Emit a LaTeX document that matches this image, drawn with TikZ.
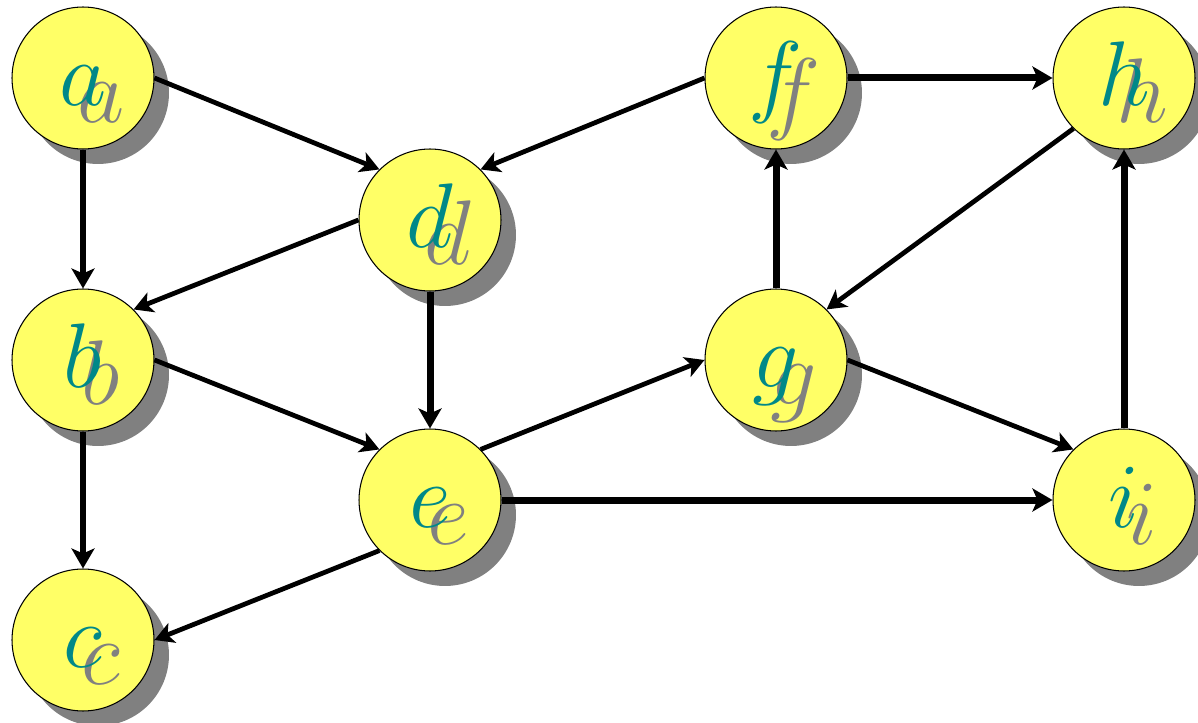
\documentclass[tikz,border=0pt]{standalone}
\usetikzlibrary{arrows.meta,shadows}
\definecolor{nodeyellow}{RGB}{255,255,102}
\definecolor{labelteal}{RGB}{0,136,136}
\definecolor{shadegray}{RGB}{128,128,128}
\newcommand{\vlabel}[1]{\scalebox{2.1}{$#1$}}

\begin{document}
\begin{tikzpicture}[
  x=0.02cm, y=-0.02cm,
  vtx/.style={
    circle, draw=black, line width=0.6pt, fill=nodeyellow,
    minimum size=2.84cm, inner sep=0pt,
    text height=1.25cm, text depth=0.15cm,
    font=\Huge, text=labelteal,
    drop shadow={shadow xshift=0.3cm, shadow yshift=-0.3cm, fill=shadegray, opacity=1},
    path picture={\node[text=shadegray, inner sep=0pt, text height=1.25cm, text depth=0.15cm]
      at ([shift={(0.36cm,-0.34cm)}]path picture bounding box.center) {\vlabel{#1}};}
  },
  wide/.style={-{Stealth[length=0.4cm, width=0.46cm, inset=0.1cm]}, line width=1.4mm},
  slim/.style={-{Stealth[length=0.38cm, width=0.42cm, inset=0.1cm]}, line width=0.95mm}
]
\useasboundingbox (0,0) rectangle (1198,723);

% vertices
\node[vtx=a] (a) at (83,78)   {\vlabel{a}};
\node[vtx=b] (b) at (83,360)  {\vlabel{b}};
\node[vtx=c] (c) at (83,640)  {\vlabel{c}};
\node[vtx=d] (d) at (430,220) {\vlabel{d}};
\node[vtx=e] (e) at (430,500) {\vlabel{e}};
\node[vtx=f] (f) at (776,78)  {\vlabel{f}};
\node[vtx=g] (g) at (776,360) {\vlabel{g}};
\node[vtx=h] (h) at (1124,78) {\vlabel{h}};
\node[vtx=i] (i) at (1124,500) {\vlabel{i}};

% heavy edges
\draw[wide] (a) -- (b);
\draw[wide] (b) -- (c);
\draw[wide] (d) -- (e);
\draw[wide] (g) -- (f);
\draw[wide] (i) -- (h);
\draw[wide] (f) -- (h);
\draw[wide] (e) -- (i);

% light edges
\draw[slim] (a.east) -- (d.north west);
\draw[slim] (f.west) -- (d.north east);
\draw[slim] (d.west) -- (b.north east);
\draw[slim] (b.east) -- (e.north west);
\draw[slim] (e.south west) -- (c.east);
\draw[slim] (e.north east) -- (g.west);
\draw[slim] (g.east) -- (i.north west);
\draw[slim] (h.south west) -- (g.north east);

\end{tikzpicture}
\end{document}
